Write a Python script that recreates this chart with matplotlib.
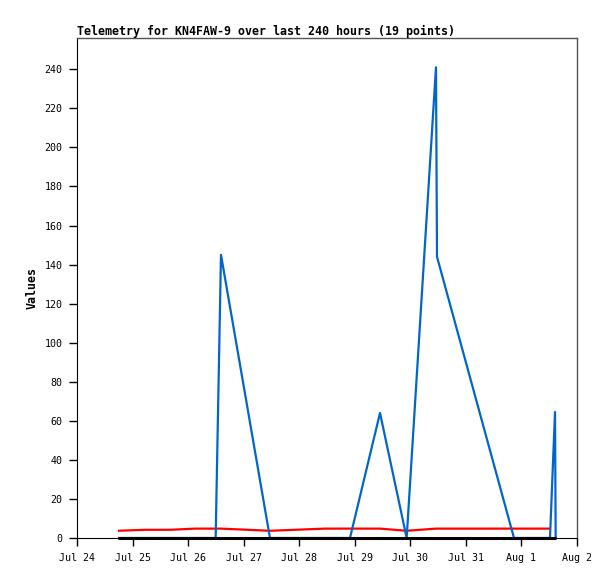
import matplotlib
matplotlib.use("Agg")
import matplotlib.pyplot as plt
import pandas as pd

times = pd.to_datetime([
    "2023-07-24 17:43", "2023-07-25 05:22", "2023-07-25 16:10", "2023-07-26 02:58",
    "2023-07-26 11:54", "2023-07-26 14:12", "2023-07-27 11:22", "2023-07-27 22:10",
    "2023-07-28 11:08", "2023-07-28 21:56", "2023-07-29 10:54", "2023-07-29 22:25",
    "2023-07-30 11:05", "2023-07-30 11:31", "2023-07-31 20:47", "2023-08-01 04:34",
    "2023-08-01 12:20", "2023-08-01 14:30", "2023-08-01 14:47",
])
blue_vals = [0, 0, 0, 0, 0, 145, 0, 0, 0, 0, 64, 0, 241, 144, 0, 0, 0, 64.5, 0]
red_vals = [3.7, 4.2, 4.2, 4.8, 4.8, 4.8, 3.7, 4.2, 4.8, 4.8, 4.8, 3.7, 4.8, 4.8, 4.8, 4.8, 4.8, None, None]
black_vals = [0] * 19

tick_dates = pd.date_range("2023-07-24", "2023-08-02", freq="D")
tick_labels = ["Jul 24", "Jul 25", "Jul 26", "Jul 27", "Jul 28", "Jul 29",
               "Jul 30", "Jul 31", "Aug 1", "Aug 2"]
y_ticks = list(range(0, 241, 20))

title = "Telemetry for KN4FAW-9 over last 240 hours (19 points)"

W, H = 615, 579
fig = plt.figure(figsize=(W / 100, H / 100), dpi=100)
ax = fig.add_axes([77 / W, (H - 538) / H, 500 / W, 500 / H])

mono = "DejaVu Sans Mono"
red_series = pd.Series(red_vals, index=times, dtype=float)

ax.plot(red_series.index, red_series.values, color="#ff0000", lw=1.6, zorder=3, solid_capstyle="butt")
ax.plot(times, blue_vals, color="#0066cc", lw=1.6, zorder=4, solid_capstyle="butt")
ax.plot(times, black_vals, color="black", lw=2.2, clip_on=False, zorder=5, solid_capstyle="butt")

ax.set_xlim(tick_dates[0], tick_dates[-1])
ax.set_ylim(0, 256)
ax.set_xticks(tick_dates)
ax.set_xticklabels(tick_labels, fontfamily=mono, fontsize=7.2)
ax.set_yticks(y_ticks)
ax.set_yticklabels([str(v) for v in y_ticks], fontfamily=mono, fontsize=7.2)
ax.tick_params(direction="out", length=5.5, width=1.0, color="black", pad=5)

for s in ("top", "right"):
    ax.spines[s].set_color("#555555")
    ax.spines[s].set_linewidth(1.0)
ax.spines["left"].set_color("black")
ax.spines["bottom"].set_color("black")

fig.text(77 / W, 1 - 31 / H, title, fontfamily=mono, fontweight="bold",
         fontsize=8.4, ha="left", va="center")
fig.text(32 / W, 1 - 288 / H, "Values", fontfamily=mono, fontweight="bold",
         fontsize=8.4, rotation=90, ha="center", va="center")

fig.savefig("out.png", dpi=100)
